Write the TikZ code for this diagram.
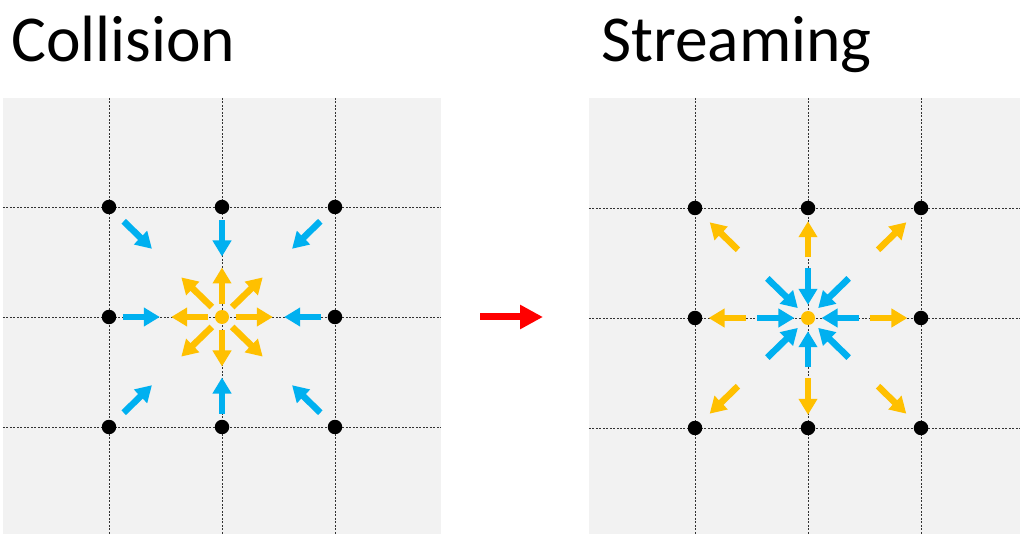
\documentclass[tikz,border=0pt]{standalone}
\usepackage{fontspec}
\setmainfont{Carlito}
\usetikzlibrary{arrows.meta,calc,positioning}

\definecolor{cellgray}{RGB}{242,242,242}
\definecolor{flowblue}{RGB}{0,176,240}
\definecolor{floworange}{RGB}{255,192,0}

\pgfdeclarelayer{bg}
\pgfdeclarelayer{lines}
\pgfsetlayers{bg,lines,main}

\tikzset{
  panel/.style={rectangle, fill=cellgray, draw=none, inner sep=0pt,
    minimum height=436pt},
  gridline/.style={black!80, line width=0.9pt, dash pattern=on 2pt off 1.5pt},
  gridpt/.style={circle, fill=black, inner sep=0pt, minimum size=14.5pt},
  sitept/.style={circle, fill=floworange, inner sep=0pt, minimum size=14pt},
  flow/.style={line width=6.5pt, -{Triangle[length=16pt,width=18pt]}},
  bluearr/.style={flow, draw=flowblue},
  orangearr/.style={flow, draw=floworange},
  stepline/.style={draw=red, line width=7pt, -{Triangle[length=23pt,width=23pt]}},
  title/.style={inner sep=0pt, font=\fontsize{65.5}{78}\selectfont}
}

\begin{document}
\begin{tikzpicture}[x=1pt,y=1pt,yscale=-1,xscale=1]
\useasboundingbox (0,0) rectangle (1020,534);

% Text Node
\node[title, anchor=base west] (coltitle) at (11,62) {Collision};
% Text Node
\node[title, anchor=base west] (strtitle) at (601,62) {Streaming};

%Shape: Rectangle (panels)
\begin{pgfonlayer}{bg}
\node[panel, minimum width=438pt] (lpanel) at (222,316) {};
\node[panel, minimum width=431pt] (rpanel) at (804.5,316) {};
\end{pgfonlayer}

% lattice sites
\node[sitept] (l11) at (222,317) {};
\node[sitept] (r11) at (808,318) {};
\foreach \i/\j in {0/0,1/0,2/0,0/1,2/1,0/2,1/2,2/2} {
  \node[gridpt] (l\i\j) at ($(l11)+(113*\i-113,110*\j-110)$) {};
  \node[gridpt] (r\i\j) at ($(r11)+(113*\i-113,110*\j-110)$) {};
}

%Straight Lines (dashed grid)
\begin{pgfonlayer}{lines}
\foreach \k in {0,1,2} {
  \draw[gridline] (l\k0 |- lpanel.north) -- (l\k0 |- lpanel.south);
  \draw[gridline] (lpanel.west |- l0\k) -- (lpanel.east |- l0\k);
  \draw[gridline] (r\k0 |- rpanel.north) -- (r\k0 |- rpanel.south);
  \draw[gridline] (rpanel.west |- r0\k) -- (rpanel.east |- r0\k);
}
\end{pgfonlayer}

% populations: collision in, streaming out
\foreach \i/\j/\a/\b/\c/\d in {0/0/0.87/0.62/0.09/0.36, 1/0/0.88/0.55/0.12/0.45,
    2/0/0.87/0.62/0.09/0.36, 0/1/0.88/0.55/0.12/0.45, 2/1/0.88/0.55/0.12/0.45,
    0/2/0.87/0.62/0.09/0.36, 1/2/0.88/0.55/0.12/0.45, 2/2/0.87/0.62/0.09/0.36} {
  \draw[bluearr] ($(l11)!\a!(l\i\j)$) -- ($(l11)!\b!(l\i\j)$);
  \draw[orangearr] ($(l11)!\c!(l\i\j)$) -- ($(l11)!\d!(l\i\j)$);
  \draw[bluearr] ($(r11)!\d!(r\i\j)$) -- ($(r11)!\c!(r\i\j)$);
  \draw[orangearr] ($(r11)!\b!(r\i\j)$) -- ($(r11)!\a!(r\i\j)$);
}

%Straight Lines (step arrow)
\coordinate (stepfrom) at (480,317);
\coordinate (stepto) at (543,317);
\draw[stepline] (stepfrom) -- (stepto);

\end{tikzpicture}
\end{document}
